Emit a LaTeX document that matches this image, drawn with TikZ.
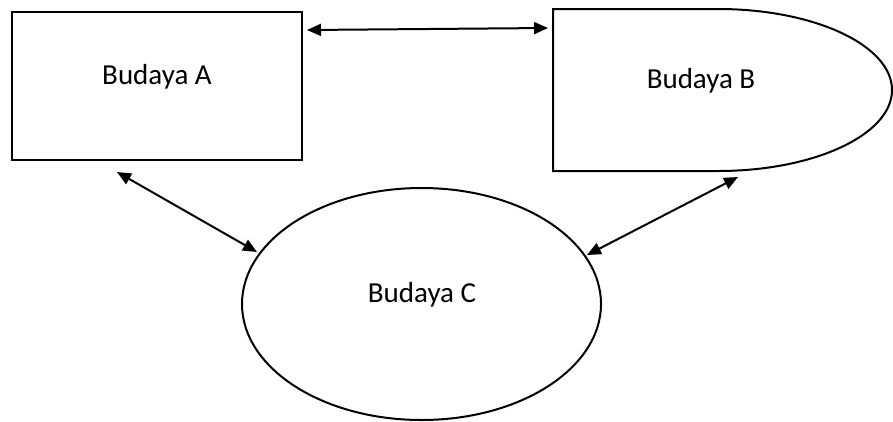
\documentclass[tikz,border=0pt]{standalone}
\usepackage{fontspec}
\setmainfont{Carlito}
\usetikzlibrary{arrows.meta,shapes.geometric}
\begin{document}
\begin{tikzpicture}[x=1pt,y=-1pt,
  shapeline/.style={draw=black,line width=2pt},
  lbl/.style={font=\fontsize{29}{34}\selectfont,inner sep=0pt},
  link/.style={line width=2pt,{Triangle[length=14pt,width=12pt]}-{Triangle[length=14pt,width=12pt]}}]
\useasboundingbox (0,0) rectangle (893,421);
% Budaya A
\node[shapeline,rectangle,minimum width=290pt,minimum height=148pt,inner sep=0pt] (A) at (157,86) {};
\node[lbl] (tA) at ([yshift=9pt]A.center) {Budaya A};
% Budaya B
\coordinate (B0) at (553,9);
\draw[shapeline] (B0) -- (718,9) arc[start angle=90,end angle=-90,x radius=174pt,y radius=81pt] -- (553,171) -- cycle;
\node[lbl] (tB) at (701,81) {Budaya B};
% Budaya C
\node[shapeline,ellipse,minimum width=359pt,minimum height=232pt,inner sep=0pt] (C) at (421.5,304) {};
\node[lbl] (tC) at (422,295) {Budaya C};
% connector ends
\coordinate (ab1) at (307,30);
\coordinate (ab2) at (548,28);
\coordinate (ac1) at (117,172);
\coordinate (ac2) at (257,252);
\coordinate (bc1) at (738,177);
\coordinate (bc2) at (587,255);
\draw[link] (ab1) -- (ab2);
\draw[link] (ac1) -- (ac2);
\draw[link] (bc1) -- (bc2);
\end{tikzpicture}
\end{document}
